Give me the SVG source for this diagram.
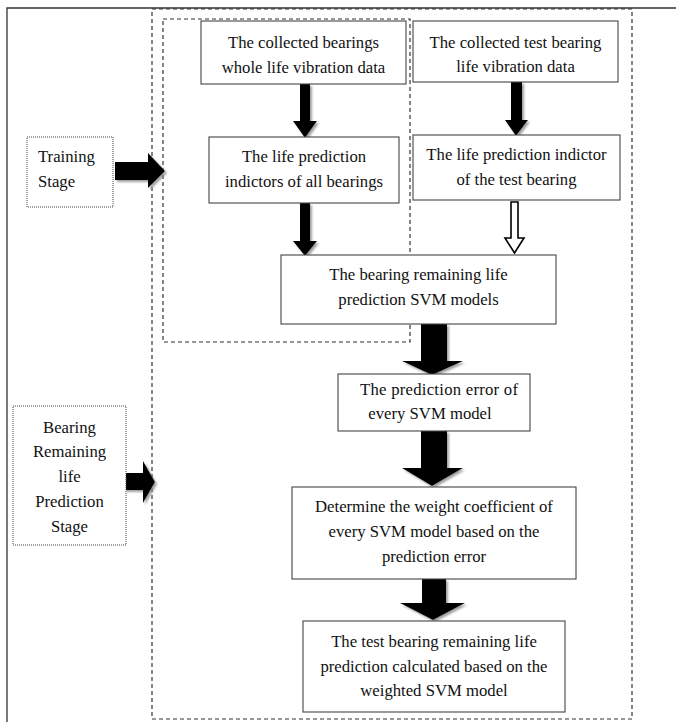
<svg xmlns="http://www.w3.org/2000/svg" width="676" height="722" viewBox="0 0 676 722">
<style>
text{font-family:"Liberation Serif","Times New Roman",serif;font-size:16.7px;fill:#111;text-anchor:middle}
.box{fill:#fff;stroke:#444;stroke-width:1.1}
.stage{fill:#fff;stroke:#444;stroke-width:1;stroke-dasharray:1,1}
.dash{fill:none;stroke:#333;stroke-width:1.2;stroke-dasharray:4,3}
.arr{fill:#000;filter:url(#sh)}
.hol{fill:#fff;stroke:#000;stroke-width:1.6}
</style>
<defs>
<filter id="sh" x="-30%" y="-30%" width="160%" height="160%">
<feDropShadow dx="2" dy="2" stdDeviation="1.2" flood-color="#888" flood-opacity="0.8"/>
</filter>
</defs>
<rect width="676" height="722" fill="#fff"/>
<path d="M7,722 V8 H676" fill="none" stroke="#333" stroke-width="1.3"/>
<rect id="prediction-region" class="dash" x="152" y="9" width="480" height="710"/>
<rect id="training-region" class="dash" x="163" y="19" width="247" height="323"/>

<g id="connectors">
<path class="arr" d="M115,162 H148 V153 L165,171 L148,188 V180 H115 Z"/>
<path class="arr" d="M124,473 H143 V461 L155,482 L143,503 V490 H124 Z"/>
<path class="arr" d="M300,84 V121 H293 L305,138 L317,121 H310 V84 Z"/>
<path class="arr" d="M511,82 V120 H505 L516,136 L528,120 H522 V82 Z"/>
<path class="arr" d="M300,203 V241 H293 L305,256 L317,241 H310 V203 Z"/>
<path class="hol" d="M511,202 V238 H505 L514.5,253 L524,238 H518 V202 Z"/>
<path class="arr" d="M421,324 V361 H402 L432,375 L463,361 H447 V324 Z"/>
<path class="arr" d="M421,431 V468 H402 L432,486 L463,468 H447 V431 Z"/>
<path class="arr" d="M422,579 V603 H400 L433,620 L465,603 H446 V579 Z"/>
</g>

<g id="training-stage">
<rect class="stage" x="27" y="137" width="86" height="70"/>
<text x="38" y="162" style="text-anchor:start">Training</text>
<text x="38" y="187" style="text-anchor:start">Stage</text>
</g>
<g id="prediction-stage">
<rect class="stage" x="13" y="406" width="113" height="139"/>
<text x="69.5" y="433">Bearing</text>
<text x="69.5" y="457">Remaining</text>
<text x="69.5" y="482">life</text>
<text x="69.5" y="507">Prediction</text>
<text x="69.5" y="532">Stage</text>
</g>

<g id="collected-bearings">
<rect class="box" x="201" y="21" width="205" height="63"/>
<text x="303.5" y="48">The collected bearings</text>
<text x="303.5" y="73">whole life vibration data</text>
</g>
<g id="collected-test">
<rect class="box" x="413" y="21" width="205" height="61"/>
<text x="515.5" y="48">The collected test bearing</text>
<text x="515.5" y="72">life vibration data</text>
</g>
<g id="indicators-all">
<rect class="box" x="209" y="137" width="190" height="66"/>
<text x="304" y="162">The life prediction</text>
<text x="304" y="187">indictors of all bearings</text>
</g>
<g id="indicator-test">
<rect class="box" x="413" y="135" width="207" height="65"/>
<text x="516.5" y="160">The life prediction indictor</text>
<text x="516.5" y="185">of the test bearing</text>
</g>
<g id="svm-models">
<rect class="box" x="281" y="255" width="275" height="69"/>
<text x="418.5" y="280">The bearing remaining life</text>
<text x="418.5" y="305">prediction SVM models</text>
</g>
<g id="prediction-error">
<rect class="box" x="338" y="374" width="192" height="57"/>
<text x="360" y="395" style="text-anchor:start" textLength="158" lengthAdjust="spacing">The prediction error of</text>
<text x="430" y="419">every SVM model</text>
</g>
<g id="weight-coefficient">
<rect class="box" x="292" y="487" width="284" height="92"/>
<text x="434" y="512">Determine the weight coefficient of</text>
<text x="434" y="537">every SVM model based on the</text>
<text x="434" y="562">prediction error</text>
</g>
<g id="final-prediction">
<rect class="box" x="303" y="621" width="262" height="91"/>
<text x="434" y="647">The test bearing remaining life</text>
<text x="434" y="672">prediction calculated based on the</text>
<text x="434" y="696">weighted SVM model</text>
</g>
</svg>
